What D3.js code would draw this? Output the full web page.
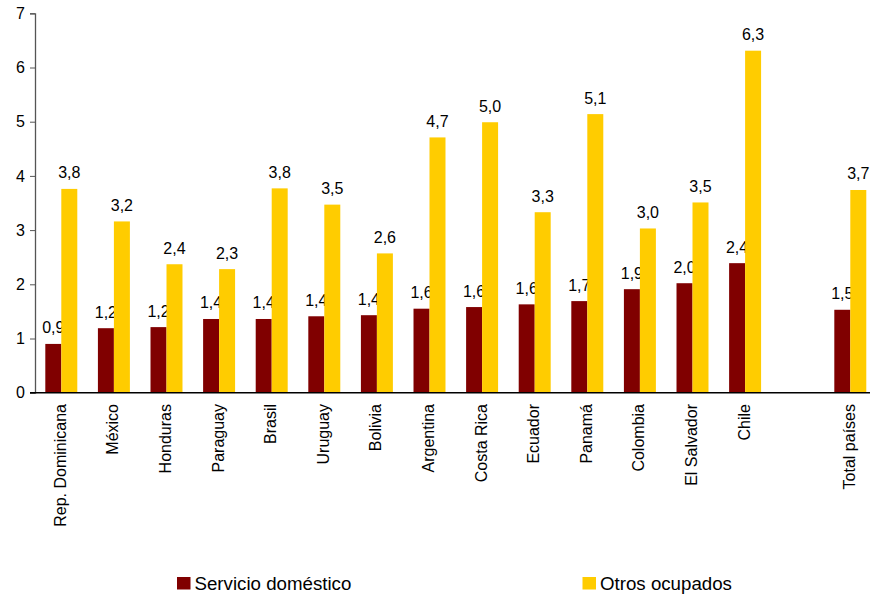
<!DOCTYPE html>
<html>
<head>
<meta charset="utf-8">
<script src="https://cdn.jsdelivr.net/npm/d3@7/dist/d3.min.js"></script>
<style>
  body { margin: 0; background: #fff; }
  text { font-family: "Liberation Sans", Arial, sans-serif; fill: #000; }
</style>
</head>
<body>
<svg id="chart" width="870" height="594"></svg>
<script>
const categories = ["Rep. Dominicana","México","Honduras","Paraguay","Brasil","Uruguay","Bolivia","Argentina","Costa Rica","Ecuador","Panamá","Colombia","El Salvador","Chile","","Total países"];
const servicioDomestico = [0.90,1.19,1.21,1.36,1.36,1.41,1.43,1.55,1.58,1.63,1.69,1.91,2.02,2.39,null,1.53];
const otrosOcupados = [3.76,3.16,2.37,2.28,3.77,3.47,2.57,4.71,4.99,3.33,5.14,3.03,3.51,6.31,null,3.74];
const seriesNames = ["Servicio doméstico","Otros ocupados"];
const seriesColors = ["#800000","#FFCC00"];
const yTicks = [0,1,2,3,4,5,6,7];

const svg = d3.select("#chart");
const x0 = 35, yTop = 13.3, yBottom = 392.7;

const x = d3.scaleBand().domain(categories.map((c,i)=>i)).range([x0, 876.6]).paddingInner(0.392).paddingOuter(0.196);
const xs = d3.scaleBand().domain([0,1]).range([0, x.bandwidth()]);
const y = d3.scaleLinear().domain([0,7]).range([yBottom, yTop]);

// Y axis
const yAxis = d3.axisLeft(y).tickValues(yTicks).tickSize(5).tickPadding(5).tickFormat(d3.format("d"));
const gy = svg.append("g").attr("transform", `translate(${x0},0)`).call(yAxis);
gy.select(".domain").attr("stroke", "#555").attr("stroke-width", 1.3);
gy.selectAll(".tick line").attr("stroke", "#555");
gy.selectAll(".tick text").style("font-size", "16px").attr("fill", "#000");

// Bars
const series = [servicioDomestico, otrosOcupados];
series.forEach((vals, si) => {
  const g = svg.append("g");
  categories.forEach((c, i) => {
    const v = vals[i];
    if (v == null) return;
    const bx = x(i) + xs(si);
    g.append("rect")
      .attr("x", bx).attr("y", y(v))
      .attr("width", xs.bandwidth()).attr("height", y(0) - y(v))
      .attr("fill", seriesColors[si]);
    g.append("text")
      .attr("x", bx + xs.bandwidth()/2).attr("y", y(v) - 10.5)
      .attr("text-anchor", "middle").style("font-size", "16px")
      .text(v.toFixed(1).replace(".", ","));
  });
});

// X axis
svg.append("line").attr("x1", 30).attr("x2", 870).attr("y1", yBottom).attr("y2", yBottom)
  .attr("stroke", "#000").attr("stroke-width", 1.5);

categories.forEach((c, i) => {
  if (!c) return;
  const cx = x(i) + x.bandwidth()/2;
  svg.append("text")
    .attr("transform", `translate(${cx + 4.5},${404}) rotate(-90)`)
    .attr("text-anchor", "end").style("font-size", "16px")
    .text(c);
});

// Legend
const legendPos = [177, 582.5];
seriesNames.forEach((n, i) => {
  svg.append("rect").attr("x", legendPos[i]).attr("y", 577).attr("width", 13.5).attr("height", 12.5).attr("fill", seriesColors[i]);
  svg.append("text").attr("x", legendPos[i] + 17.5).attr("y", 589.5).style("font-size", "18.7px").text(n);
});
</script>
</body>
</html>
